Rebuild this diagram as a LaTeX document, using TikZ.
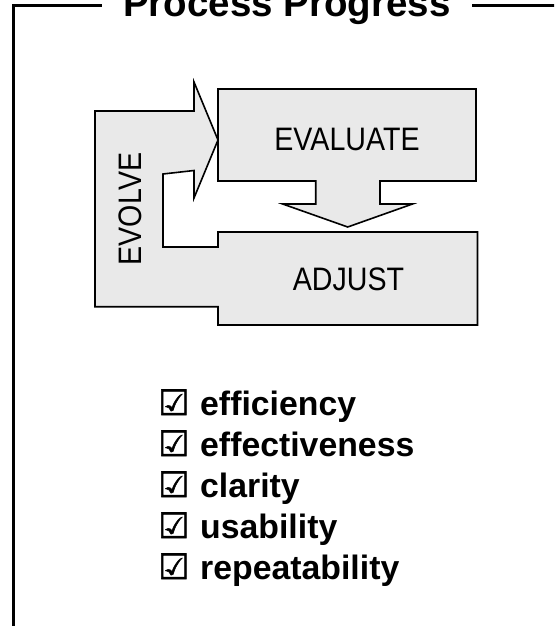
\documentclass[tikz,border=0pt]{standalone}
\usepackage{fontspec}
\setmainfont{Liberation Sans}
\newfontfamily\narrowfont[FakeStretch=0.88]{Liberation Sans}
\newfontfamily\symfont[FakeBold=1.5]{DejaVu Sans}
\definecolor{boxgray}{RGB}{233,233,233}
\begin{document}
\begin{tikzpicture}[x=1pt,y=-1pt,
  shapeline/.style={draw=black,line width=1.6pt,fill=boxgray,line join=miter},
  frameline/.style={line width=3pt},
  boxlabel/.style={font=\narrowfont\fontsize{32.5}{38}\selectfont,inner sep=0pt,anchor=base},
  listitem/.style={font=\bfseries\fontsize{33.8}{40}\selectfont,inner sep=0pt,anchor=base west},
  checkbox/.style={font=\symfont\fontsize{35}{40}\selectfont,inner sep=0pt,anchor=base west}]
\useasboundingbox (0,0) rectangle (554,626);
\clip (0,0) rectangle (554,626);
% frame
\draw[frameline] (13.5,640) -- (13.5,6) -- (101.5,6);
\draw[frameline] (472,6) -- (560,6);
\node[font=\bfseries\fontsize{38.5}{46}\selectfont,inner sep=0pt,anchor=base] (title) at (287,17) {Process Progress};
% adjust + evolve
\draw[shapeline] (218,232) -- (477.5,232) -- (477.5,325) -- (218,325) -- (218,306.7)
  -- (95,306.7) -- (95,111) -- (194,111) -- (194,82) -- (218,140) -- (194,198)
  -- (194,170.5) -- (163,174) -- (163,247) -- (218,247) -- cycle;
% evaluate + down arrow
\draw[shapeline] (218,89) -- (476,89) -- (476,181) -- (380,181) -- (380,204)
  -- (412.5,204) -- (347.7,227) -- (282.7,204) -- (315.7,204) -- (315.7,181)
  -- (218,181) -- cycle;
\node[boxlabel] (evaluate) at (347,150.7) {EVALUATE};
\node[boxlabel] (adjust) at (348.5,290) {ADJUST};
\node[boxlabel,rotate=90] (evolve) at (141.7,209) {EVOLVE};
% checklist
\node[checkbox] (c1) at (158,415) {☑};
\node[checkbox] (c2) at (158,456) {☑};
\node[checkbox] (c3) at (158,497) {☑};
\node[checkbox] (c4) at (158,538) {☑};
\node[checkbox] (c5) at (158,579) {☑};
\node[listitem] (l1) at (200,415) {efficiency};
\node[listitem] (l2) at (200,456) {effectiveness};
\node[listitem] (l3) at (200,497) {clarity};
\node[listitem] (l4) at (200,538) {usability};
\node[listitem] (l5) at (200,579) {repeatability};
\end{tikzpicture}
\end{document}
